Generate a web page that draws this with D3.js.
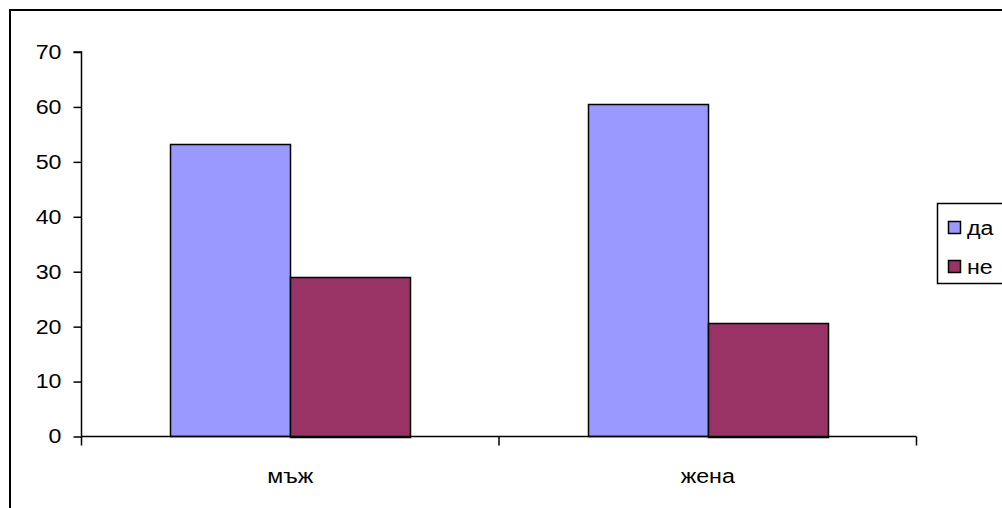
<!DOCTYPE html>
<html><head><meta charset="utf-8">
<script src="https://cdn.jsdelivr.net/npm/d3@7"></script>
<style>body{margin:0;background:#fff;}svg{display:block;}text{font-family:"Liberation Sans",Arial,sans-serif;fill:#000;}</style>
</head><body>
<svg id="c" width="1002" height="508"></svg>
<script>
const categories = ["мъж", "жена"];
const seriesNames = ["да", "не"];
const seriesDa = [53.2, 60.5];
const seriesNe = [29.1, 20.7];
const yTicks = [0, 10, 20, 30, 40, 50, 60, 70];
const colors = ["#9999FF", "#993366"];

(function () {
const svg = d3.select("#c");
const fs = 20, sx = 1.16;
// outer border
svg.append("rect").attr("x", 10).attr("y", 10).attr("width", 1010).attr("height", 520)
  .attr("fill", "none").attr("stroke", "#000").attr("stroke-width", 2);

const pL = 81.5, pR = 916.5, pT = 52, pB = 436.5;
const y = d3.scaleLinear().domain([0, 70]).range([pB, pT]);
const x0 = d3.scaleBand().domain(categories).range([pL, pR]);
const inner = d3.scaleBand().domain(seriesNames).range([0, x0.bandwidth()]).paddingOuter(0.737).paddingInner(0);

const data = categories.map((c, i) => ({cat: c, vals: [seriesDa[i], seriesNe[i]]}));
const g = svg.append("g");
data.forEach(d => {
  d.vals.forEach((v, j) => {
    const bx = x0(d.cat) + inner(seriesNames[j]);
    g.append("rect")
      .attr("x", Math.round(bx) + 0.5).attr("y", Math.round(y(v)) + 0.5)
      .attr("width", Math.round(inner.bandwidth())).attr("height", Math.round(pB - y(v)))
      .attr("fill", colors[j]).attr("stroke", "#000").attr("stroke-width", 1.5);
  });
});

// y axis
const yAxis = d3.axisLeft(y).tickValues(yTicks).tickSize(8).tickPadding(12).tickFormat(d3.format("d"));
const ya = svg.append("g").attr("transform", `translate(${pL},0)`).call(yAxis);
ya.select(".domain").attr("stroke", "#000").attr("stroke-width", 1.5).attr("d", `M-8,${pT}H0V${pB}`);
ya.selectAll(".tick line").attr("stroke", "#000").attr("stroke-width", 1.5);
ya.selectAll("text").attr("font-size", fs).attr("font-family", "Liberation Sans, Arial, sans-serif").attr("fill", "#000")
  .attr("x", null).attr("transform", `translate(-20,0) scale(${sx},1)`);

// x axis
const xa = svg.append("g").attr("transform", `translate(0,${pB})`);
xa.append("line").attr("x1", pL).attr("x2", pR).attr("y1", 0).attr("y2", 0).attr("stroke", "#000").attr("stroke-width", 1.5);
const bounds = [pL, ...categories.map(c => x0(c) + x0.bandwidth())];
bounds.forEach(b => xa.append("line").attr("x1", b).attr("x2", b).attr("y1", 0).attr("y2", 9).attr("stroke", "#000").attr("stroke-width", 1.5));
categories.forEach(c => xa.append("text")
  .attr("transform", `translate(${x0(c) + x0.bandwidth() / 2},46) scale(${sx},1)`)
  .attr("text-anchor", "middle").attr("font-size", fs).text(c));

// legend
const lg = svg.append("g");
lg.append("rect").attr("x", 937.5).attr("y", 203.5).attr("width", 80).attr("height", 80)
  .attr("fill", "#fff").attr("stroke", "#000").attr("stroke-width", 1.5);
seriesNames.forEach((s, i) => {
  const cy = 228 + i * 39;
  lg.append("rect").attr("x", 948.5).attr("y", cy - 6.5).attr("width", 12).attr("height", 12)
    .attr("fill", colors[i]).attr("stroke", "#000").attr("stroke-width", 1.5);
  lg.append("text").attr("transform", `translate(967,${cy + 7}) scale(${sx},1)`).attr("font-size", fs).text(s);
});
})();
</script>
</body></html>
